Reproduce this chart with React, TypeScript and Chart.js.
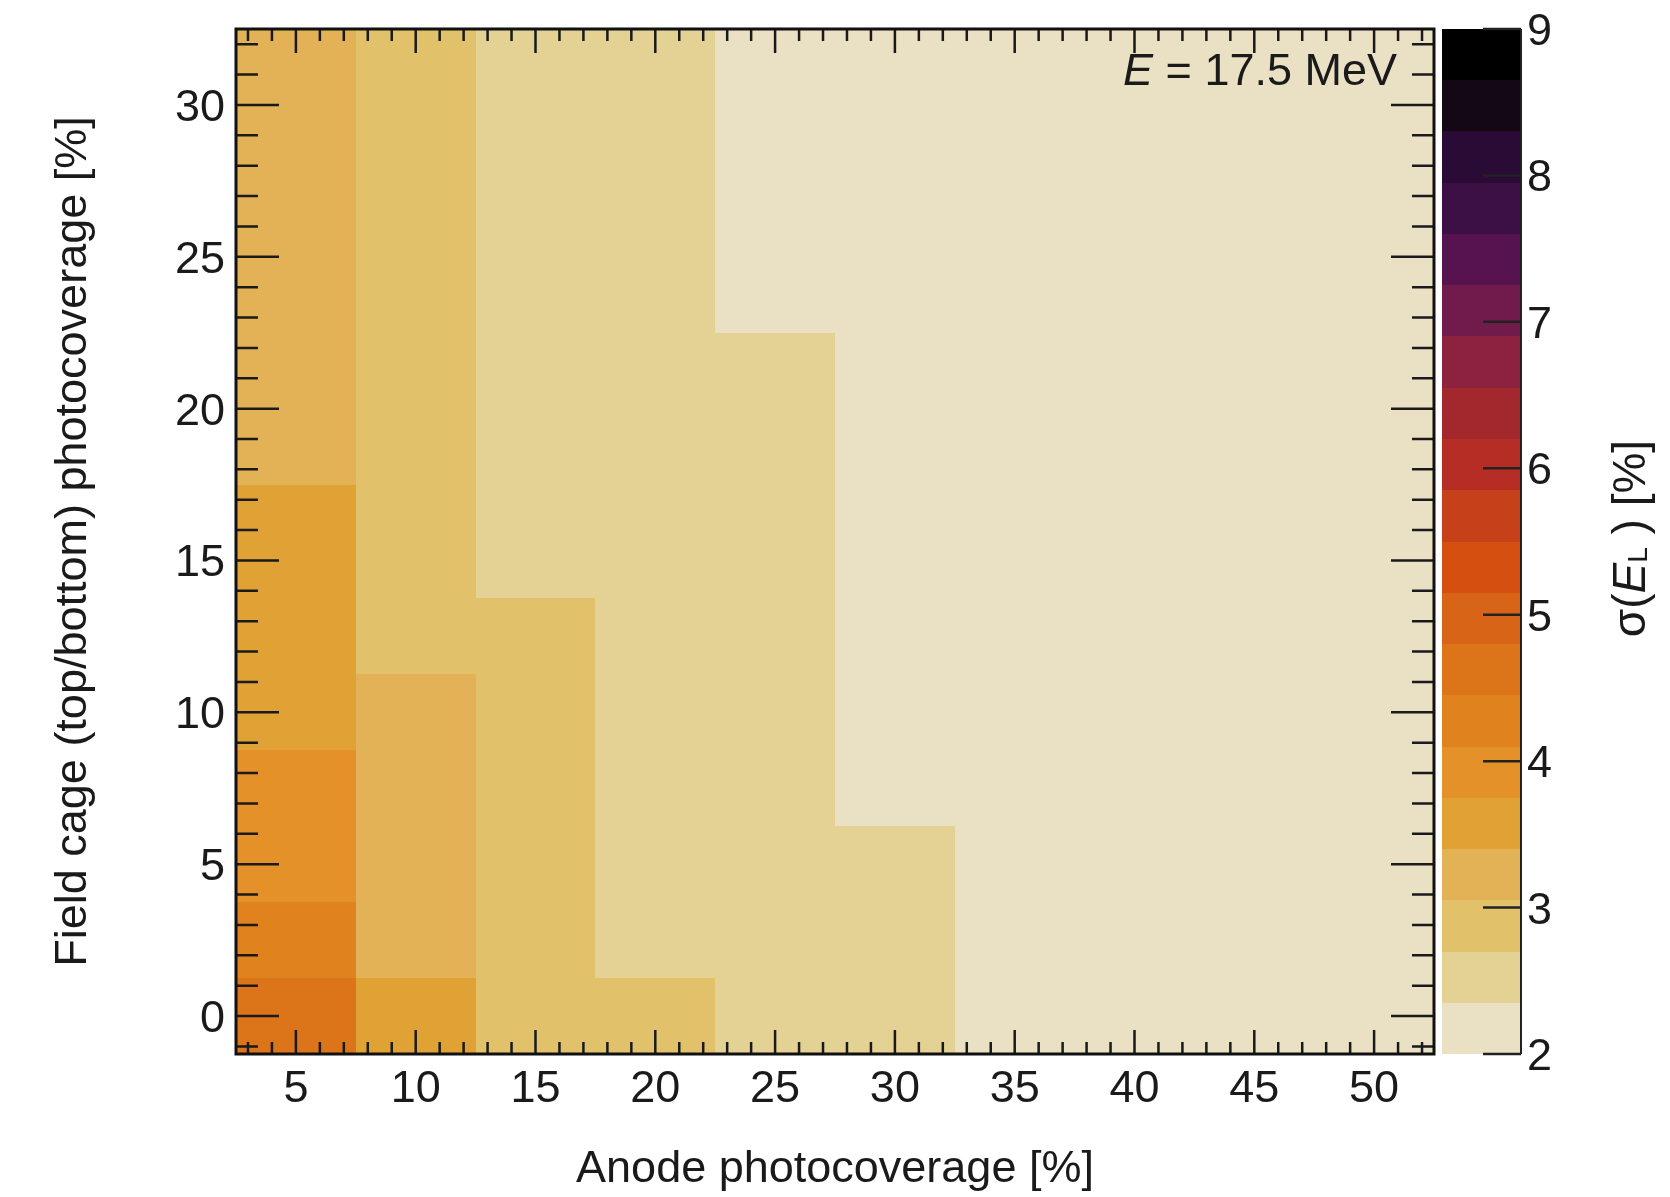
import React, { useEffect, useRef } from "react";
import { Chart, registerables } from "chart.js";

Chart.register(...registerables);

// ---------- data ----------
const anodeCoverage = [5, 10, 15, 20, 25, 30, 35, 40, 45, 50];
const fieldCageCoverage = [0, 2.5, 5, 7.5, 10, 12.5, 15, 20, 25, 30];
const anodeBinEdges = [2.5, 7.5, 12.5, 17.5, 22.5, 27.5, 32.5, 37.5, 42.5, 47.5, 52.5];
const fieldCageBinEdges = [-1.25, 1.25, 3.75, 6.25, 8.75, 11.25, 13.75, 17.5, 22.5, 27.5, 32.5];

// sigma(E_L) [%] per anode coverage column, rows follow fieldCageCoverage
const sigmaAnode5 = [4.58, 4.27, 3.98, 3.82, 3.68, 3.55, 3.45, 3.36, 3.28, 3.22];
const sigmaAnode10 = [3.52, 3.3, 3.22, 3.15, 3.08, 3.02, 2.98, 2.92, 2.88, 2.85];
const sigmaAnode15 = [3.0, 2.93, 2.87, 2.82, 2.77, 2.72, 2.68, 2.63, 2.59, 2.56];
const sigmaAnode20 = [2.78, 2.68, 2.62, 2.58, 2.54, 2.51, 2.48, 2.44, 2.41, 2.39];
const sigmaAnode25 = [2.62, 2.57, 2.53, 2.49, 2.46, 2.43, 2.41, 2.37, 2.34, 2.32];
const sigmaAnode30 = [2.52, 2.45, 2.38, 2.34, 2.31, 2.29, 2.27, 2.25, 2.23, 2.21];
const sigmaAnode35 = [2.33, 2.29, 2.26, 2.24, 2.22, 2.2, 2.18, 2.16, 2.14, 2.13];
const sigmaAnode40 = [2.3, 2.25, 2.22, 2.19, 2.17, 2.15, 2.13, 2.11, 2.09, 2.08];
const sigmaAnode45 = [2.28, 2.22, 2.19, 2.16, 2.14, 2.12, 2.1, 2.08, 2.06, 2.05];
const sigmaAnode50 = [2.26, 2.2, 2.16, 2.13, 2.11, 2.09, 2.07, 2.05, 2.04, 2.03];
const sigmaColumns = [
  sigmaAnode5, sigmaAnode10, sigmaAnode15, sigmaAnode20, sigmaAnode25,
  sigmaAnode30, sigmaAnode35, sigmaAnode40, sigmaAnode45, sigmaAnode50,
];

const xTickValues = [5, 10, 15, 20, 25, 30, 35, 40, 45, 50];
const yTickValues = [0, 5, 10, 15, 20, 25, 30];
const colorbarTicks = [2, 3, 4, 5, 6, 7, 8, 9];
const contourLevels = [
  2, 2.35, 2.7, 3.05, 3.4, 3.75, 4.1, 4.45, 4.8, 5.15, 5.5,
  5.85, 6.2, 6.55, 6.9, 7.25, 7.6, 7.95, 8.3, 8.65, 9,
];
const paletteColors = [
  "#EAE0C4", "#E3D293", "#E1C26B", "#E3B257", "#E0A234",
  "#E39128", "#E0821E", "#DC7419", "#D86517", "#D44F10",
  "#C6411A", "#B52D24", "#A2282E", "#8D2240", "#711A4C",
  "#56134F", "#3C1045", "#2A0B36", "#140814", "#000000",
];

const xTitle = "Anode photocoverage [%]";
const yTitle = "Field cage (top/bottom) photocoverage [%]";
const energyLabelValue = " = 17.5 MeV";

// ---------- helpers ----------
const FONT = '"Liberation Sans", Arial, Helvetica, sans-serif';
const INK = "#1a1a1a";

function colorFor(v: number): string {
  for (let i = 0; i < contourLevels.length - 1; i++) {
    if (v >= contourLevels[i] && v < contourLevels[i + 1]) return paletteColors[i];
  }
  return v < contourLevels[0] ? paletteColors[0] : paletteColors[paletteColors.length - 1];
}

const heatmapPlugin = {
  id: "heatmapCells",
  beforeDatasetsDraw(chart: any) {
    const { ctx, scales } = chart;
    const xs = scales.x;
    const ys = scales.y;
    ctx.save();
    anodeCoverage.forEach((_xv, i) => {
      const x0 = Math.round(xs.getPixelForValue(anodeBinEdges[i]));
      const x1 = Math.round(xs.getPixelForValue(anodeBinEdges[i + 1]));
      fieldCageCoverage.forEach((_yv, j) => {
        const yTop = Math.round(ys.getPixelForValue(fieldCageBinEdges[j + 1]));
        const yBot = Math.round(ys.getPixelForValue(fieldCageBinEdges[j]));
        ctx.fillStyle = colorFor(sigmaColumns[i][j]);
        ctx.fillRect(x0, yTop, x1 - x0, yBot - yTop);
      });
    });
    ctx.restore();
  },
  afterDatasetsDraw(chart: any) {
    const { ctx, chartArea: a, scales } = chart;
    const xs = scales.x;
    const ys = scales.y;
    const cb = scales.cb;
    ctx.save();

    // ----- ticks on all four sides -----
    ctx.strokeStyle = INK;
    ctx.lineWidth = 2.5;
    ctx.lineCap = "butt";
    const xMin = Math.ceil(xs.min);
    const xMax = Math.floor(xs.max);
    for (let v = xMin; v <= xMax; v++) {
      const major = xTickValues.includes(v);
      const len = major ? 24 : 12;
      const px = xs.getPixelForValue(v);
      ctx.beginPath();
      ctx.moveTo(px, a.bottom);
      ctx.lineTo(px, a.bottom - len);
      ctx.moveTo(px, a.top);
      ctx.lineTo(px, a.top + len);
      ctx.stroke();
    }
    const yMin = Math.ceil(ys.min);
    const yMax = Math.floor(ys.max);
    for (let v = yMin; v <= yMax; v++) {
      const major = yTickValues.includes(v);
      const len = major ? 43 : 22;
      const py = ys.getPixelForValue(v);
      ctx.beginPath();
      ctx.moveTo(a.left, py);
      ctx.lineTo(a.left + len, py);
      ctx.moveTo(a.right, py);
      ctx.lineTo(a.right - len, py);
      ctx.stroke();
    }

    // ----- frame -----
    ctx.lineWidth = 3;
    ctx.strokeStyle = "#111";
    ctx.strokeRect(a.left, a.top, a.right - a.left, a.bottom - a.top);

    // ----- tick labels -----
    ctx.fillStyle = INK;
    ctx.font = `45px ${FONT}`;
    ctx.textBaseline = "alphabetic";
    ctx.textAlign = "center";
    xTickValues.forEach((v) => {
      ctx.fillText(String(v), xs.getPixelForValue(v), a.bottom + 48);
    });
    ctx.textAlign = "right";
    yTickValues.forEach((v) => {
      ctx.fillText(String(v), a.left - 11, ys.getPixelForValue(v) + 16);
    });

    // ----- axis titles -----
    ctx.textAlign = "center";
    ctx.fillText(xTitle, (a.left + a.right) / 2, 1182);
    ctx.save();
    ctx.translate(86, (a.top + a.bottom) / 2);
    ctx.rotate(-Math.PI / 2);
    ctx.fillText(yTitle, 0, 0);
    ctx.restore();

    // ----- colorbar -----
    const cbLeft = a.right + 8;
    const cbRight = a.right + 87;
    for (let i = 0; i < paletteColors.length; i++) {
      const yTop = Math.round(cb.getPixelForValue(contourLevels[i + 1]));
      const yBot = Math.round(cb.getPixelForValue(contourLevels[i]));
      ctx.fillStyle = paletteColors[i];
      ctx.fillRect(cbLeft, yTop, cbRight - cbLeft, yBot - yTop);
    }
    ctx.strokeStyle = "#222";
    ctx.lineWidth = 2;
    ctx.beginPath();
    ctx.moveTo(cbRight, cb.getPixelForValue(9));
    ctx.lineTo(cbRight, cb.getPixelForValue(2));
    ctx.stroke();
    ctx.lineWidth = 2.5;
    colorbarTicks.forEach((v) => {
      const py = cb.getPixelForValue(v);
      ctx.beginPath();
      ctx.moveTo(cbRight, py);
      ctx.lineTo(cbRight - 38, py);
      ctx.stroke();
    });
    ctx.fillStyle = INK;
    ctx.font = `45px ${FONT}`;
    ctx.textAlign = "left";
    colorbarTicks.forEach((v) => {
      ctx.fillText(String(v), cbRight + 6, cb.getPixelForValue(v) + 16);
    });

    // colorbar title: sigma(E_L) [%]
    ctx.save();
    ctx.translate(1645, (a.top + a.bottom) / 2 - 3);
    ctx.rotate(-Math.PI / 2);
    const big = `46px ${FONT}`;
    const bigIt = `italic 46px ${FONT}`;
    const small = `28px ${FONT}`;
    const parts: [string, string, number][] = [
      ["\u03C3(", big, 0],
      ["E", bigIt, 0],
      ["L", small, 2],
      [" ) [%]", big, 0],
    ];
    let total = 0;
    parts.forEach(([t, f]) => {
      ctx.font = f;
      total += ctx.measureText(t).width;
    });
    let cx = -total / 2;
    ctx.textAlign = "left";
    parts.forEach(([t, f, dy]) => {
      ctx.font = f;
      ctx.fillText(t, cx, dy);
      cx += ctx.measureText(t).width;
    });
    ctx.restore();

    // ----- energy annotation -----
    ctx.font = `italic 45px ${FONT}`;
    const wE = ctx.measureText("E").width;
    ctx.font = `45px ${FONT}`;
    const wRest = ctx.measureText(energyLabelValue).width;
    const startX = 1397 - (wE + wRest);
    ctx.textAlign = "left";
    ctx.font = `italic 45px ${FONT}`;
    ctx.fillText("E", startX, 85);
    ctx.font = `45px ${FONT}`;
    ctx.fillText(energyLabelValue, startX + wE, 85);

    ctx.restore();
  },
};

export default function App() {
  const canvasRef = useRef<HTMLCanvasElement | null>(null);

  useEffect(() => {
    const canvas = canvasRef.current;
    if (!canvas) return;
    const cells: { x: number; y: number; v: number }[] = [];
    anodeCoverage.forEach((x, i) =>
      fieldCageCoverage.forEach((y, j) => cells.push({ x, y, v: sigmaColumns[i][j] }))
    );
    const chart = new Chart(canvas, {
      type: "scatter",
      data: {
        datasets: [
          {
            label: "sigma",
            data: cells as any,
            pointRadius: 0,
            pointHoverRadius: 0,
          },
        ],
      },
      options: {
        responsive: false,
        animation: false,
        devicePixelRatio: 1,
        events: [],
        layout: { padding: { left: 236, top: 29, right: 236, bottom: 143 } },
        plugins: { legend: { display: false }, tooltip: { enabled: false } },
        scales: {
          x: { type: "linear", min: 2.5, max: 52.5, display: false },
          y: { type: "linear", min: -1.25, max: 32.5, display: false },
          cb: { type: "linear", position: "right", min: 2, max: 9, display: false },
        },
      },
      plugins: [heatmapPlugin],
    });
    return () => chart.destroy();
  }, []);

  return (
    <div style={{ position: "absolute", left: 0, top: 0, width: 1670, height: 1197, background: "#fff" }}>
      <canvas ref={canvasRef} width={1670} height={1197} style={{ display: "block" }} />
    </div>
  );
}
